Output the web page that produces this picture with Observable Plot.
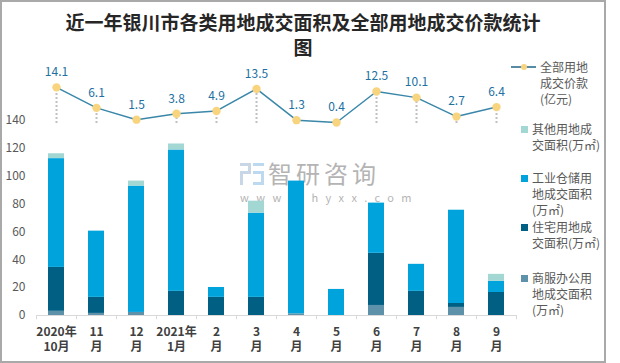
<!DOCTYPE html>
<html>
<head>
<meta charset="utf-8">
<script src="https://cdn.jsdelivr.net/npm/d3@7"></script>
<script src="https://cdn.jsdelivr.net/npm/@observablehq/plot@0.6"></script>
<style>
  body { margin: 0; background: #fff; }
  #wrap { position: relative; width: 620px; height: 363px; overflow: hidden; font-family: "Noto Sans CJK SC", "Noto Sans", sans-serif; background: #fff; }
  #frame { position: absolute; left: 0; top: 0; width: 606px; height: 363px; box-sizing: border-box; border: 2px solid #a9a9a9; pointer-events: none; z-index: 5; }
  #title { position: absolute; left: 0; top: 9px; width: 606px; text-align: center; font-size: 19px; font-weight: bold; line-height: 25px; color: #262626; }
  #wm1 { position: absolute; left: 268px; top: 161px; font-size: 24px; letter-spacing: 4px; color: #b4b4b4; line-height: 24px; z-index: 0; }
  #wm2 { position: absolute; left: 240px; top: 191px; font-size: 11px; letter-spacing: 7.4px; color: #b4b4b4; line-height: 12px; z-index: 0; }
  #wmlogo { position: absolute; left: 240px; top: 163px; width: 24px; height: 22px; z-index: 0; }
  .plot { position: absolute; left: 0; z-index: 1; }
  #bars { top: 60px; }
  #line { top: 60px; z-index: 2; }
  .leg { position: absolute; font-size: 12px; line-height: 16px; color: #595959; white-space: nowrap; }
  .sw { position: absolute; width: 7px; height: 7px; }
</style>
</head>
<body>
<div id="wrap">
  <div id="title">近一年银川市各类用地成交面积及全部用地成交价款统计<br>图</div>
  <svg id="wmlogo" viewBox="0 0 24 22">
    <rect x="0" y="0" width="11" height="3" fill="#c9d6e6"/>
    <rect x="8" y="0" width="3" height="10" fill="#c9d6e6"/>
    <rect x="0" y="8" width="11" height="3" fill="#c9d6e6"/>
    <rect x="0" y="8" width="3" height="14" fill="#c9d6e6"/>
    <rect x="13" y="0" width="11" height="3" fill="#bcd9ef"/>
    <rect x="13" y="8" width="11" height="3" fill="#bcd9ef"/>
    <rect x="13" y="19" width="11" height="3" fill="#bcd9ef"/>
    <rect x="21" y="8" width="3" height="14" fill="#bcd9ef"/>
  </svg>
  <div id="wm1">智研咨询</div>
  <div id="wm2">www.chyxx.com</div>
  <div id="frame"></div>
</div>
<script>
// ---- data ----
const months = ["2020年\n10月", "11\n月", "12\n月", "2021年\n1月", "2\n月", "3\n月", "4\n月", "5\n月", "6\n月", "7\n月", "8\n月", "9\n月"];
const price = [14.1, 6.1, 1.5, 3.8, 4.9, 13.5, 1.3, 0.4, 12.5, 10.1, 2.7, 6.4];           // 全部用地成交价款(亿元)
const commercialArea = [3, 1.5, 2.2, 0, 0, 0, 1.2, 0, 7.2, 0, 5.8, 0];                  // 商服办公用地
const residentialArea = [31.5, 11.5, 0, 17.3, 13, 13, 0, 0, 37.4, 17.3, 2.8, 16.5];     // 住宅用地
const industrialArea = [78, 47.5, 90.6, 101.4, 7.1, 60.4, 95.2, 18.7, 36, 19.4, 66.9, 8]; // 工业仓储用地
const otherArea = [3.5, 0, 3.6, 4.3, 0, 8.6, 0, 0, 0, 0, 0, 5];                         // 其他用地
const seriesNames = ["商服办公用地成交面积(万㎡)", "住宅用地成交面积(万㎡)", "工业仓储用地成交面积(万㎡)", "其他用地成交面积(万㎡)"];
const seriesColors = ["#5e92ab", "#005f83", "#00a3dc", "#a2d7d4"];
const yTicks = [0, 20, 40, 60, 80, 100, 120, 140];
const lineLegend = "全部用地\n成交价款\n(亿元)";
const legendLabels = ["其他用地成\n交面积(万㎡)", "工业仓储用\n地成交面积\n(万㎡)", "住宅用地成\n交面积(万㎡)", "商服办公用\n地成交面积\n(万㎡)"];

// ---- table for stacked bars ----
const seriesValues = [commercialArea, residentialArea, industrialArea, otherArea];
const rows = [];
seriesNames.forEach((s, k) => months.forEach((m, i) => rows.push({month: m, series: s, value: seriesValues[k][i]})));
const idx = months.map((_, i) => i);

const font = `"Noto Sans CJK SC", "Noto Sans", sans-serif`;
const xScale = {domain: months, paddingInner: 0.6, paddingOuter: 0.3, axis: null};

const barPlot = Plot.plot({
  width: 620, height: 300,
  marginLeft: 36, marginRight: 104, marginTop: 4, marginBottom: 45,
  style: {fontFamily: font, background: "transparent", overflow: "visible"},
  x: xScale,
  y: {domain: [0, 180], axis: null},
  color: {domain: seriesNames, range: seriesColors},
  marks: [
    Plot.barY(rows, {x: "month", y: "value", fill: "series"}),
    Plot.ruleY([0], {stroke: "#d9d9d9", strokeWidth: 1}),
    Plot.ruleX(months, {x: d => d, y1: 0, y2: -3, dx: -20, stroke: "#d9d9d9"}),
    Plot.ruleX(months.slice(-1), {x: d => d, y1: 0, y2: -3, dx: 20, stroke: "#d9d9d9"}),
    Plot.axisY(yTicks, {tickSize: 0, tickPadding: 11, fontSize: 12, fill: "#595959", label: null}),
    Plot.axisX({tickSize: 0, tickPadding: 9, fontSize: 12, lineHeight: 1.3, fill: "#404040", fontWeight: "bold", label: null})
  ]
});
barPlot.classList.add("plot");
barPlot.id = "bars";

const linePlot = Plot.plot({
  width: 620, height: 70,
  marginLeft: 36, marginRight: 104, marginTop: 22, marginBottom: 7,
  style: {fontFamily: font, background: "transparent", overflow: "visible"},
  x: xScale,
  y: {domain: [0, 16], axis: null},
  marks: [
    Plot.ruleX(idx, {x: i => months[i], y1: 0, y2: i => price[i], stroke: "#c0c0c0", strokeWidth: 2, strokeDasharray: "2,2"}),
    Plot.line(idx, {x: i => months[i], y: i => price[i], stroke: "#3a87aa", strokeWidth: 1.5}),
    Plot.dot(idx, {x: i => months[i], y: i => price[i], r: 4.2, fill: "#f8d47f", stroke: "none"}),
    Plot.text(idx, {x: i => months[i], y: i => price[i], text: i => price[i].toFixed(1), dy: -15, fill: "#2170a2", fontSize: 12})
  ]
});
linePlot.classList.add("plot");
linePlot.id = "line";

const wrap = document.getElementById("wrap");
wrap.appendChild(barPlot);
wrap.appendChild(linePlot);

// ---- legend ----
function addText(txt, left, top) {
  const d = document.createElement("div");
  d.className = "leg";
  d.style.left = left + "px";
  d.style.top = top + "px";
  d.innerHTML = txt.split("\n").join("<br>");
  wrap.appendChild(d);
}
// line legend
const ls = document.createElementNS("http://www.w3.org/2000/svg", "svg");
ls.setAttribute("width", 26); ls.setAttribute("height", 10);
ls.style.position = "absolute"; ls.style.left = "511px"; ls.style.top = "62px"; ls.style.zIndex = 3;
ls.innerHTML = `<line x1="0" y1="5" x2="25" y2="5" stroke="#1f6386" stroke-width="1.5"/><circle cx="13" cy="5" r="3" fill="#f8d47f"/>`;
wrap.appendChild(ls);
addText(lineLegend, 540, 59);
const legTops = [121, 170, 219, 270];
const legColors = [seriesColors[3], seriesColors[2], seriesColors[1], seriesColors[0]];
legendLabels.forEach((t, k) => {
  const sw = document.createElement("div");
  sw.className = "sw";
  sw.style.left = "521px";
  sw.style.top = (legTops[k] + 5) + "px";
  sw.style.background = legColors[k];
  wrap.appendChild(sw);
  addText(t, 532, legTops[k]);
});
</script>
</body>
</html>
